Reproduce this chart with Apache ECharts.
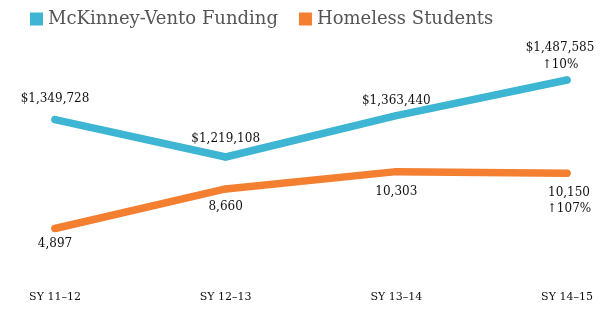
<!DOCTYPE html>
<html><head><meta charset="utf-8">
<script src="https://cdn.jsdelivr.net/npm/echarts@6/dist/echarts.min.js"></script>
<style>html,body{margin:0;padding:0;background:#fff}#c{width:608px;height:332px}</style>
</head><body><div id="c"></div>
<script>
const categories = ['SY 11\u201312', 'SY 12\u201313', 'SY 13\u201314', 'SY 14\u201315'];
const funding = [1349728, 1219108, 1363440, 1487585];
const students = [4897, 8660, 10303, 10150];
const fundingChange = '\u219110%';
const studentsChange = '\u2191107%';
const seriesNames = ['McKinney-Vento Funding', 'Homeless Students'];

const FONT = 'DejaVu Serif';
const fmtMoney = v => '$' + v.toLocaleString('en-US');
const fmtNum = v => v.toLocaleString('en-US');
const last = categories.length - 1;
const fundingDist = [11, 9, 5, 3];
const studentsDist = [6, 8, 11, 8];

const chart = echarts.init(document.getElementById('c'), null, {renderer: 'canvas'});
chart.setOption({
  animation: false,
  legend: {
    left: 25, top: 5, icon: 'rect', itemWidth: 13, itemHeight: 13, itemGap: 21,
    textStyle: {fontFamily: FONT, fontSize: 18, color: '#555'},
    data: seriesNames
  },
  grid: {left: 55, right: 41, top: 40, bottom: 52},
  xAxis: {
    type: 'category', data: categories, boundaryGap: false,
    axisLine: {show: false}, axisTick: {show: false}, splitLine: {show: false},
    axisLabel: {margin: 12, fontFamily: FONT, fontSize: 11, color: '#111'}
  },
  yAxis: [
    {type: 'value', min: 790244, max: 1627053, show: false, splitLine: {show: false}},
    {type: 'value', min: 0, max: 22817, show: false, splitLine: {show: false}}
  ],
  series: [
    {
      name: seriesNames[0], type: 'line', yAxisIndex: 0,
      data: funding.map((v, i) => ({
        value: v,
        label: i === last
          ? {formatter: fmtMoney(v) + '\n' + fundingChange, offset: [-7, 0], lineHeight: 17, distance: fundingDist[i]}
          : {distance: fundingDist[i]}
      })),
      symbol: 'circle', symbolSize: 7,
      color: '#3db5d3',
      lineStyle: {width: 7.5, cap: 'round', join: 'round'},
      label: {show: true, position: 'top', fontFamily: FONT, fontSize: 12, color: '#111',
        formatter: p => fmtMoney(p.value)}
    },
    {
      name: seriesNames[1], type: 'line', yAxisIndex: 1,
      data: students.map((v, i) => ({
        value: v,
        label: i === last
          ? {formatter: fmtNum(v) + '\n' + studentsChange, offset: [2, 0], lineHeight: 16, distance: studentsDist[i]}
          : {distance: studentsDist[i]}
      })),
      symbol: 'circle', symbolSize: 7,
      color: '#f47f30',
      lineStyle: {width: 7.5, cap: 'round', join: 'round'},
      label: {show: true, position: 'bottom', fontFamily: FONT, fontSize: 12, color: '#111',
        formatter: p => fmtNum(p.value)}
    }
  ]
});
</script></body></html>
